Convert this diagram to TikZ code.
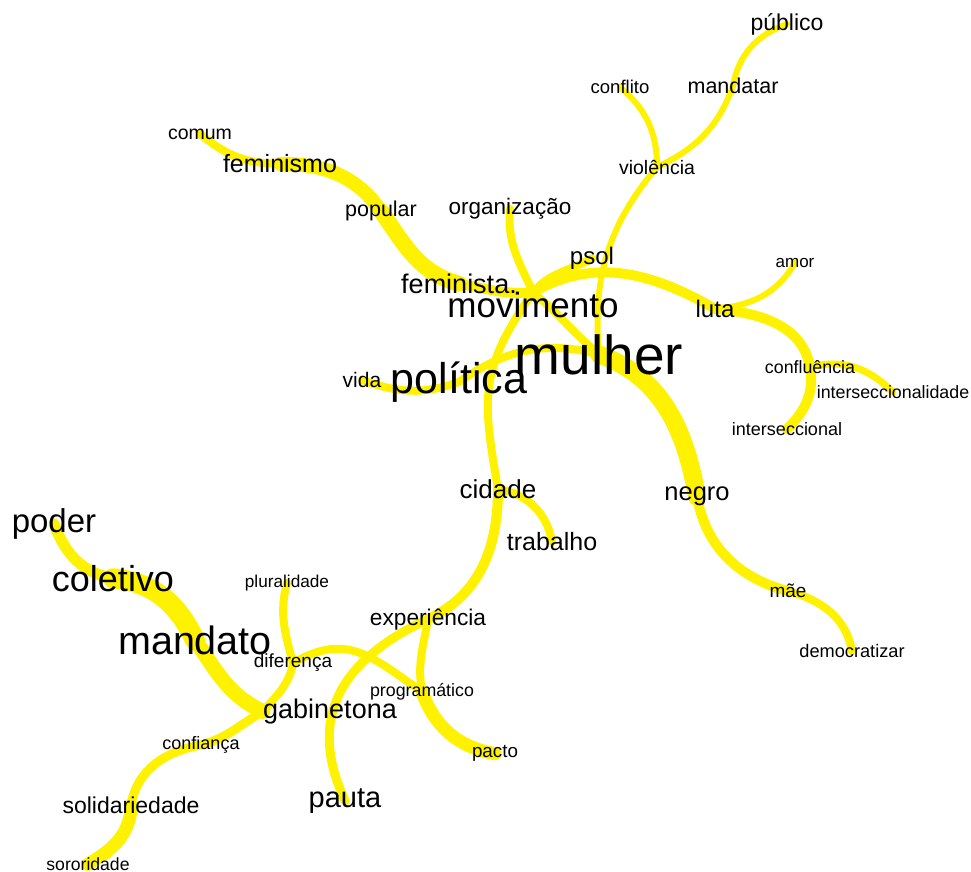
\documentclass[tikz,border=0pt]{standalone}
\usepackage{fontspec}
\setmainfont{Liberation Sans}
\usetikzlibrary{backgrounds}

\begin{document}
\begin{tikzpicture}[%
    x=1pt, y=1pt,
    word/.style={inner sep=0pt, anchor=base, yshift={-0.31*#1pt},
      font=\fontsize{#1}{#1}\selectfont},
    link/.style={draw=yellow, line cap=round, line width=#1pt}
  ]

  \useasboundingbox (0,0) rectangle (971,-871);

  % words
  \node[word=55]   (mulher)              at (599,-357) {mulher};
  \node[word=43]   (politica)            at (459,-380) {política};
  \node[word=35]   (movimento)           at (533,-307) {movimento};
  \node[word=27]   (feminista)           at (459,-285) {feminista.};
  \node[word=24]   (psol)                at (592,-257) {psol};
  \node[word=22.5] (organizacao)         at (510,-208) {organização};
  \node[word=21.5] (popular)             at (381,-210) {popular};
  \node[word=25]   (feminismo)           at (280,-165) {feminismo};
  \node[word=19.5] (comum)               at (200,-133) {comum};
  \node[word=19.5] (violencia)           at (657,-168) {violência};
  \node[word=18.5] (conflito)            at (620,-88)  {conflito};
  \node[word=21.5] (mandatar)            at (733,-87)  {mandatar};
  \node[word=23]   (publico)             at (787,-23)  {público};
  \node[word=24]   (luta)                at (715,-310) {luta};
  \node[word=17]   (amor)                at (795,-262) {amor};
  \node[word=17.8] (confluencia)         at (810,-368) {confluência};
  \node[word=17.8] (interseccionalidade) at (893,-393) {interseccionalidade};
  \node[word=18]   (interseccional)      at (787,-430) {interseccional};
  \node[word=25.5] (negro)               at (697,-493) {negro};
  \node[word=19]   (mae)                 at (788,-592) {mãe};
  \node[word=18.2] (democratizar)        at (852,-652) {democratizar};
  \node[word=21]   (vida)                at (362,-381) {vida};
  \node[word=26]   (cidade)              at (498,-490) {cidade};
  \node[word=25]   (trabalho)            at (552,-543) {trabalho};
  \node[word=22.7] (experiencia)         at (428,-618) {experiência};
  \node[word=17.2] (pluralidade)         at (287,-582) {pluralidade};
  \node[word=19]   (diferenca)           at (293,-662) {diferença};
  \node[word=17.8] (programatico)        at (422,-691) {programático};
  \node[word=27]   (gabinetona)          at (330,-710) {gabinetona};
  \node[word=18.8] (pacto)               at (495,-752) {pacto};
  \node[word=29]   (pauta)               at (345,-798) {pauta};
  \node[word=18]   (confianca)           at (201,-744) {confiança};
  \node[word=23]   (solidariedade)       at (131,-806) {solidariedade};
  \node[word=17.6] (sororidade)          at (88,-865)  {sororidade};
  \node[word=39.5] (mandato)             at (195,-642) {mandato};
  \node[word=36]   (coletivo)            at (113,-580) {coletivo};
  \node[word=33]   (poder)               at (54,-522)  {poder};

  \begin{pgfonlayer}{background}
  \path
      (comum.center)       edge[link=8, out=-40, in=180]  (feminismo.center)
      (feminismo.center)   edge[link=14, out=0, in=125]   (popular.center)
      (popular.center)     edge[link=16, out=-55, in=165] (feminista.center)
      (feminista.center)   edge[link=10, out=-10, in=185] (movimento.north)
      (organizacao.center) edge[link=8, out=-95, in=115]  (movimento.north)
      (movimento.north)    edge[link=8, out=50, in=210]   (psol.center)
      (movimento.north)    edge[link=10, out=30, in=150]  (luta.center)
      (movimento.north)    edge[link=8, out=-40, in=140]  (mulher.center)
      (movimento.north)    edge[link=8, out=-125, in=100, looseness=1.2] (cidade.center)
      (violencia.center)   edge[link=6, out=-130, in=95]  (mulher.center)
      (conflito.center)    edge[link=6, out=-40, in=90]   (violencia.center)
      (violencia.center)   edge[link=6, out=25, in=-110]  (mandatar.center)
      (mandatar.center)    edge[link=6, out=80, in=200]   (publico.center)
      (luta.center)        edge[link=6, out=5, in=-120]   (amor.center)
      (luta.center)        edge[link=10, out=-5, in=100]  (confluencia.center)
      (confluencia.center) edge[link=10, out=-80, in=45]  (interseccional.center)
      (confluencia.center) edge[link=7, out=15, in=135]   (interseccionalidade.center)
      (mulher.center)      edge[link=18, out=-20, in=100] (negro.center)
      (negro.center)       edge[link=10, out=-80, in=165] (mae.center)
      (mae.center)         edge[link=8, out=-15, in=100]  (democratizar.center)
      (vida.center)        edge[link=8, out=-20, in=200]  (politica.center)
      (politica.center)    edge[link=8, out=35, in=165]   (mulher.center)
      (cidade.center)      edge[link=8, out=-10, in=100]  (trabalho.center)
      (cidade.center)      edge[link=10, out=-90, in=25]  (experiencia.center)
      (experiencia.center) edge[link=9, out=205, in=115, looseness=1.2] (pauta.center)
      (experiencia.center) edge[link=8, out=-100, in=100] (programatico.center)
      (programatico.center) edge[link=13, out=-70, in=170] (pacto.center)
      (diferenca.center)   edge[link=8, out=30, in=145, looseness=1.2] (programatico.center)
      (pluralidade.center) edge[link=8, out=-105, in=105] (diferenca.center)
      (diferenca.center)   edge[link=8, out=-100, in=50]  (gabinetona.west)
      (mandato.center)     edge[link=15, out=-55, in=155] (gabinetona.west)
      (coletivo.center)    edge[link=20, out=-5, in=115]  (mandato.center)
      (poder.center)       edge[link=11, out=-70, in=170] (coletivo.center)
      (gabinetona.west)    edge[link=9, out=210, in=15]   (confianca.center)
      (confianca.center)   edge[link=9, out=190, in=80]   (solidariedade.center)
      (solidariedade.center) edge[link=13, out=-90, in=30] (sororidade.center);
  \end{pgfonlayer}

\end{tikzpicture}
\end{document}
